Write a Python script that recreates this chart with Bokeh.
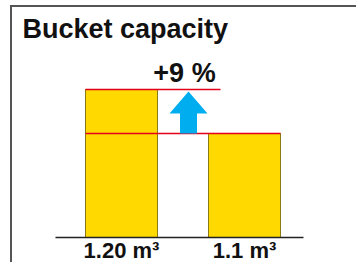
from bokeh.plotting import figure
from bokeh.models import Range1d, Label
from bokeh.core.properties import value
from bokeh.embed import file_html
from bokeh.resources import INLINE

# ---- data ----
categories = ["1.20 m³", "1.1 m³"]
capacity = [1.20, 1.1]
title_text = "Bucket capacity"

# ---- geometry / styles ----
W, H = 356, 262
PX_X = 123.0            # pixels per category unit
PX_Y = 440.0            # pixels per m³
X0_PX = 121.0           # pixel position of first category
BASE = 0.8636           # visual baseline value of the bars
BASE_FROM_BOTTOM = 25.0

x_start = -X0_PX / PX_X
x_end = x_start + W / PX_X
y_start = BASE - BASE_FROM_BOTTOM / PX_Y
y_end = y_start + H / PX_Y

FONT = "Liberation Sans"
YELLOW = "#FFD900"
EDGE = "#8A7A14"
RED = "#E3001B"
BLUE = "#00AEEF"
FRAME = "#555555"

p = figure(width=W, height=H, output_backend="svg", toolbar_location=None,
           x_range=Range1d(x_start, x_end), y_range=Range1d(y_start, y_end),
           min_border=0, min_border_left=0, min_border_right=0,
           min_border_top=0, min_border_bottom=0)
p.axis.visible = False
p.grid.visible = False
p.outline_line_color = None
p.background_fill_color = "white"
p.border_fill_color = "white"

xs = list(range(len(categories)))
bw = 72 / PX_X

# frame lines (decoration)
fx = x_start + 10.5 / PX_X
fy = y_end - 5.5 / PX_Y
p.segment(x0=[fx - 1 / PX_X, fx], y0=[fy, fy], x1=[x_end, fx], y1=[fy, y_start],
          line_color=FRAME, line_width=2)

# bars
p.vbar(x=xs, top=capacity, bottom=BASE, width=bw,
       fill_color=YELLOW, line_color=EDGE, line_width=1)

# baseline
p.segment(x0=[xs[0] - 66 / PX_X], y0=[BASE], x1=[xs[-1] + 59 / PX_X], y1=[BASE],
          line_color="#222222", line_width=1.5)

# reference red lines
left = xs[0] - bw / 2
p.segment(x0=[left, left], y0=[capacity[0], capacity[1]],
          x1=[xs[0] + 99 / PX_X, xs[1] + bw / 2], y1=[capacity[0], capacity[1]],
          line_color=RED, line_width=1.5)

# arrow between bars
ax = xs[0] + 67 / PX_X
sh = 8.5 / PX_X
hh = 19 / PX_X
tip = capacity[0] - 2 / PX_Y
head_base = capacity[0] - 24 / PX_Y
p.patch(x=[ax - sh, ax - sh, ax - hh, ax, ax + hh, ax + sh, ax + sh],
        y=[capacity[1], head_base, head_base, tip, head_base, head_base, capacity[1]],
        fill_color=BLUE, line_color=None)

# percentage
pct = round((capacity[0] / capacity[1] - 1) * 100)
p.text(x=[xs[0] + 63 / PX_X], y=[capacity[0] + 16 / PX_Y], text=[f"+{pct} %"],
       text_font=value(FONT), text_font_style="bold", text_font_size="27px",
       text_align="center", text_baseline="alphabetic", text_color="#111111")

# category labels
p.text(x=xs, y=[BASE - 13 / PX_Y] * len(xs), text=categories,
       text_font=value(FONT), text_font_style="bold", text_font_size="22px",
       text_align="center", text_baseline="alphabetic", text_color="#111111")

# title
p.add_layout(Label(x=22, y=H - 28.5, x_units="screen", y_units="screen",
                   text=title_text, text_font=FONT, text_font_style="bold",
                   text_font_size="27px", text_baseline="alphabetic",
                   text_color="#111111"))

open("out.html", "w").write(file_html(p, INLINE))
